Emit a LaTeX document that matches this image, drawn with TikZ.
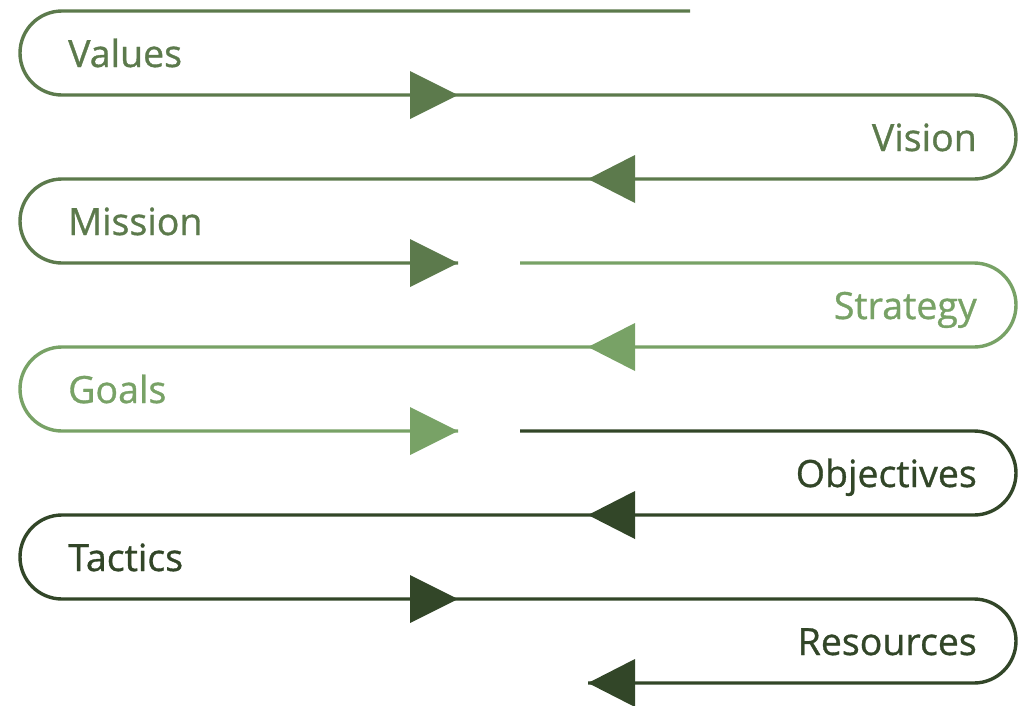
\documentclass[tikz,border=0pt]{standalone}
\usepackage{fontspec}
\setmainfont{Open Sans}
\newfontfamily\lblfont{Open Sans}[FakeBold=0.9]
\definecolor{gmid}{RGB}{92,122,76}
\definecolor{glight}{RGB}{120,162,102}
\definecolor{gdark}{RGB}{50,70,40}
\begin{document}
\begin{tikzpicture}[x=1pt,y=-1pt,
  track/.style={line width=3.4pt},
  lbl/.style={font=\lblfont\fontsize{37.5}{42}\selectfont, inner sep=0pt},
  lefttxt/.style={lbl, anchor=base west},
  righttxt/.style={lbl, anchor=base east},
  rarrow/.pic={\fill (-48,-24) -- (0,0) -- (-48,24) -- cycle;},
  larrow/.pic={\fill (47,-24) -- (0,0) -- (47,24) -- cycle;}]
\useasboundingbox (0,0) rectangle (1018,705);
% coordinates
\coordinate (s1) at (690,11);
\coordinate (e1) at (458,263);
\coordinate (s2) at (520,263);
\coordinate (e2) at (458,431);
\coordinate (s3) at (520,431);
\coordinate (e3) at (588,683);
% medium segment
\draw[track, gmid] (s1) -- (62,11) arc[start angle=270, end angle=90, radius=42]
  -- (974,95) arc[start angle=-90, end angle=90, radius=42]
  -- (62,179) arc[start angle=270, end angle=90, radius=42] -- (e1);
\pic[gmid] at (458,95) {rarrow};
\pic[gmid] at (588,179) {larrow};
\pic[gmid] at (e1) {rarrow};
% light segment
\draw[track, glight] (s2) -- (974,263) arc[start angle=-90, end angle=90, radius=42]
  -- (62,347) arc[start angle=270, end angle=90, radius=42] -- (e2);
\pic[glight] at (588,347) {larrow};
\pic[glight] at (e2) {rarrow};
% dark segment
\draw[track, gdark] (s3) -- (974,431) arc[start angle=-90, end angle=90, radius=42]
  -- (62,515) arc[start angle=270, end angle=90, radius=42]
  -- (974,599) arc[start angle=-90, end angle=90, radius=42] -- (e3);
\pic[gdark] at (588,515) {larrow};
\pic[gdark] at (458,599) {rarrow};
\pic[gdark] at (e3) {larrow};
% labels
\node[lefttxt, gmid] (values) at (68,67) {Values};
\node[righttxt, gmid] (vision) at (977,151) {Vision};
\node[lefttxt, gmid] (mission) at (68,235) {Mission};
\node[righttxt, glight] (strategy) at (977,319) {Strategy};
\node[lefttxt, glight] (goals) at (68,403) {Goals};
\node[righttxt, gdark] (objectives) at (977,487) {Objectives};
\node[lefttxt, gdark] (tactics) at (68,571) {Tactics};
\node[righttxt, gdark] (resources) at (977,655) {Resources};
\end{tikzpicture}
\end{document}
